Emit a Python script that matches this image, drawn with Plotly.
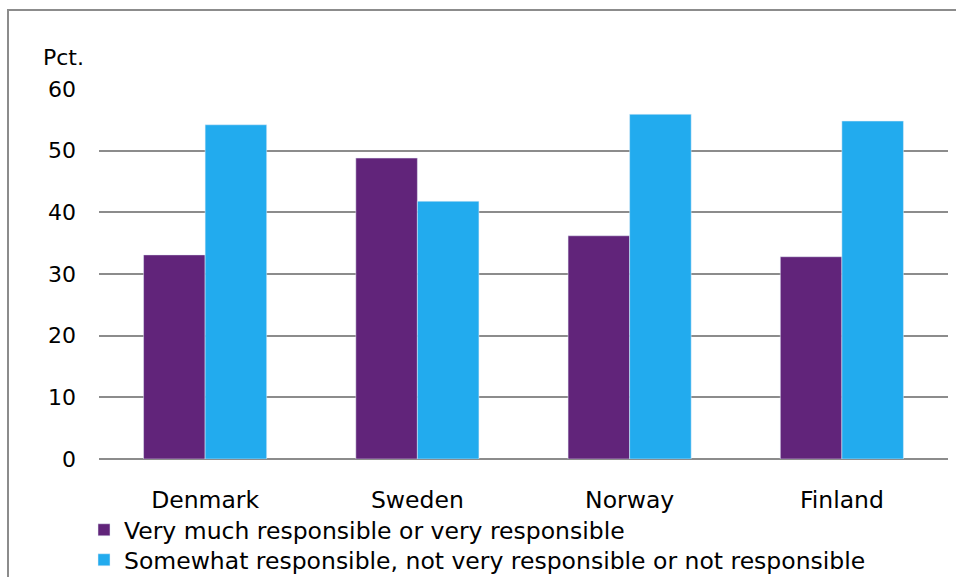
import plotly.graph_objects as go

countries = ["Denmark", "Sweden", "Norway", "Finland"]
very_responsible = [33.1, 48.8, 36.2, 32.8]
somewhat_not = [54.2, 41.8, 55.9, 54.8]
series_names = [
    "Very much responsible or very responsible",
    "Somewhat responsible, not very responsible or not responsible",
]
y_ticks = [0, 10, 20, 30, 40, 50, 60]

PURPLE = "#61247A"
BLUE = "#22ABEE"
GRID = "#8c8c8c"
FONT = "DejaVu Sans"

W, H = 956, 577
L, R, T, B = 99, 8, 89, 118
PW, PH = W - L - R, H - T - B

def px_x(p):
    return (p - L) / PW

def px_y(p):
    return (H - B - p) / PH

fig = go.Figure()
fig.add_trace(go.Bar(x=countries, y=very_responsible, name=series_names[0],
                     marker_color=PURPLE, legend="legend"))
fig.add_trace(go.Bar(x=countries, y=somewhat_not, name=series_names[1],
                     marker_color=BLUE, legend="legend2"))

legend_common = dict(
    xanchor="left", yanchor="middle",
    font=dict(family=FONT, size=23.5, color="#000"),
    bgcolor="rgba(0,0,0,0)", borderwidth=0,
    itemclick=False, itemdoubleclick=False,
)

fig.update_layout(
    width=W, height=H,
    margin=dict(l=L, r=R, t=T, b=B, pad=0, autoexpand=False),
    paper_bgcolor="white", plot_bgcolor="white",
    font=dict(family=FONT, size=23.5, color="#000"),
    barmode="group", bargap=0.42, bargroupgap=0,
    showlegend=True,
    legend=dict(x=px_x(84), y=px_y(530), **legend_common),
    legend2=dict(x=px_x(84), y=px_y(560), **legend_common),
    xaxis=dict(
        showgrid=False, showline=False, zeroline=False, automargin=False,
        ticks="", ticklabelstandoff=24,
        tickfont=dict(family=FONT, size=23.5, color="#000"),
    ),
    yaxis=dict(
        range=[0, 60], tickvals=y_ticks, automargin=False,
        showgrid=True, gridcolor=GRID, gridwidth=1.5,
        zeroline=True, zerolinecolor=GRID, zerolinewidth=1.5,
        showline=False, ticks="", ticklabelstandoff=22,
        tickfont=dict(family=FONT, size=22, color="#000"),
    ),
    shapes=[dict(
        type="rect", xref="paper", yref="paper",
        x0=px_x(8), x1=px_x(1000), y0=px_y(620), y1=px_y(10),
        line=dict(color=GRID, width=2), fillcolor="rgba(0,0,0,0)", layer="below",
    )],
    annotations=[dict(
        text="Pct.", xref="paper", yref="paper",
        x=px_x(41), y=px_y(57), xanchor="left", yanchor="middle",
        showarrow=False, font=dict(family=FONT, size=22, color="#000"),
    )],
)

fig.write_html("out.html", config={"displayModeBar": False},
               post_script="document.body.style.margin='0';")
